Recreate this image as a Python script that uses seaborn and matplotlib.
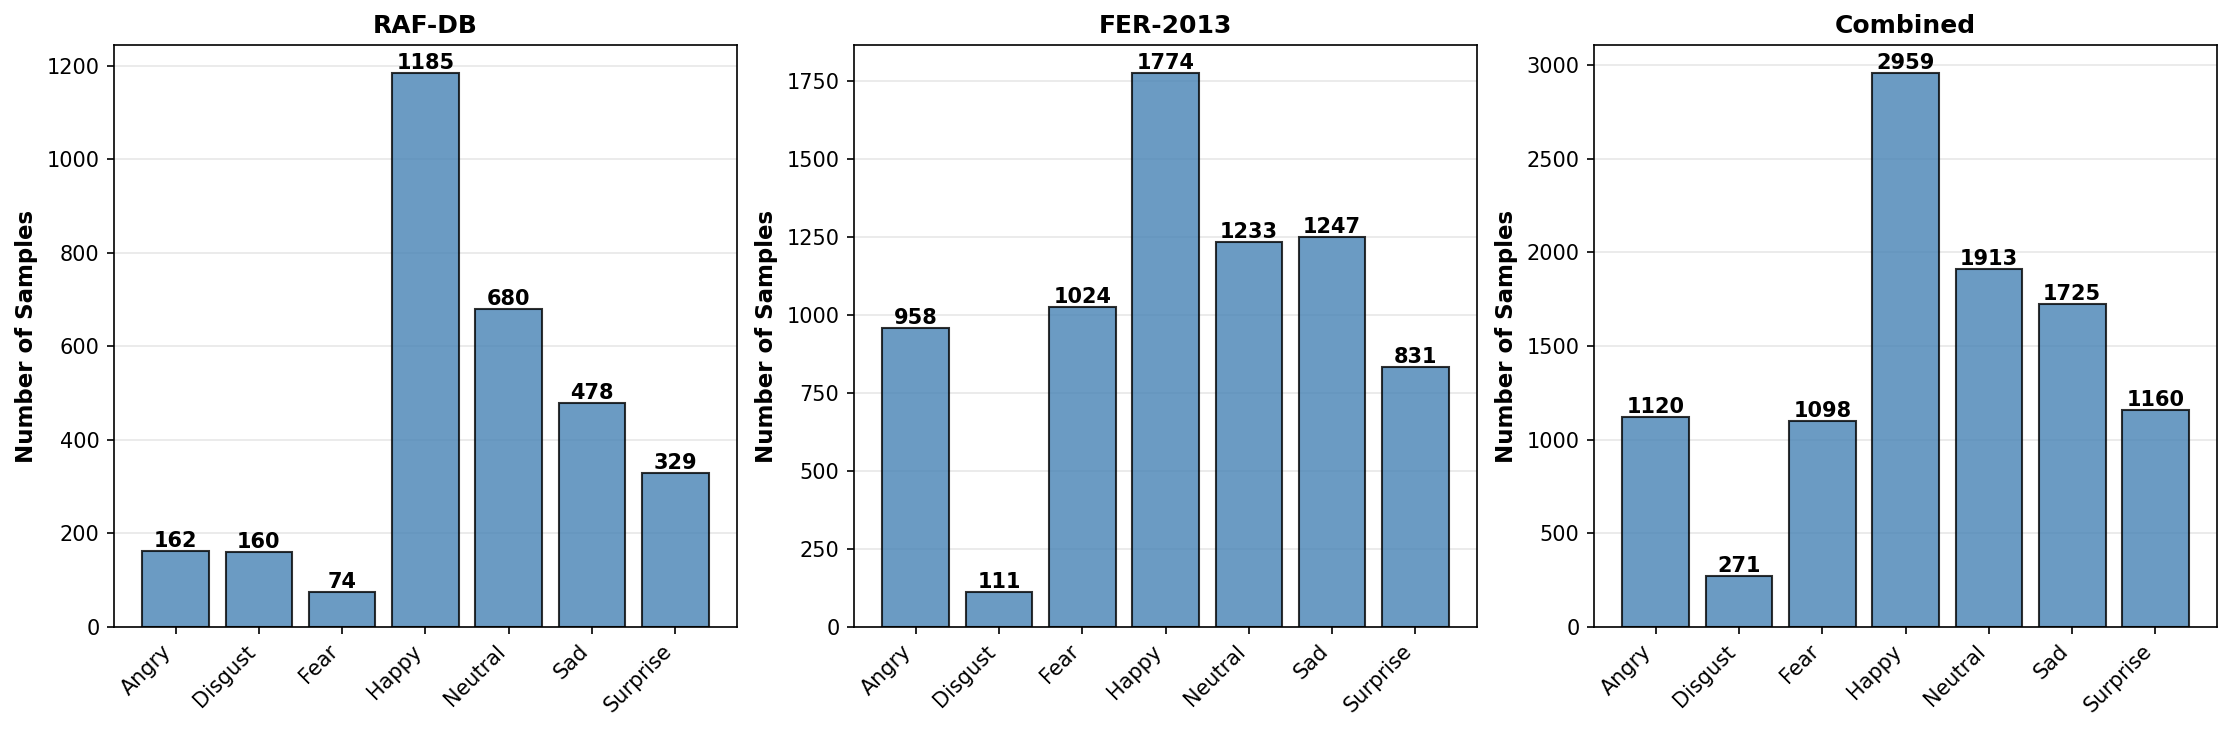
import matplotlib
matplotlib.use("Agg")
import matplotlib.pyplot as plt
import seaborn as sns
import pandas as pd

emotions = ["Angry", "Disgust", "Fear", "Happy", "Neutral", "Sad", "Surprise"]
raf_db = [162, 160, 74, 1185, 680, 478, 329]
fer_2013 = [958, 111, 1024, 1774, 1233, 1247, 831]
combined = [1120, 271, 1098, 2959, 1913, 1725, 1160]
titles = ["RAF-DB", "FER-2013", "Combined"]

plt.rcParams['font.family'] = ['DejaVu Sans']

fig, axes = plt.subplots(1, 3, figsize=(14.9, 4.88), dpi=150)
for ax, vals, title in zip(axes, [raf_db, fer_2013, combined], titles):
    df = pd.DataFrame({"Emotion": emotions, "Count": vals})
    sns.barplot(data=df, x="Emotion", y="Count", color="steelblue", alpha=0.8,
                edgecolor="black", linewidth=1, width=0.8, ax=ax, saturation=1)
    ax.set_title(title, fontsize=12, fontweight="bold")
    ax.set_ylabel("Number of Samples", fontsize=11, fontweight="bold")
    ax.set_xlabel("")
    ax.set_xticks(range(len(emotions)))
    ax.set_xticklabels(emotions, rotation=45, ha="right")
    ax.set_xlim(-0.74, len(emotions) - 1 + 0.74)
    ax.grid(axis="y", alpha=0.3)
    ax.set_axisbelow(True)
    for p, v in zip(ax.patches, vals):
        ax.text(p.get_x() + p.get_width() / 2, p.get_height(), f"{v}",
                ha="center", va="bottom", fontsize=10, fontweight="bold",
                color="black")

fig.subplots_adjust(left=0.051, right=0.992, top=0.938, bottom=0.144, wspace=0.188)
fig.savefig("out.png", dpi=150)
